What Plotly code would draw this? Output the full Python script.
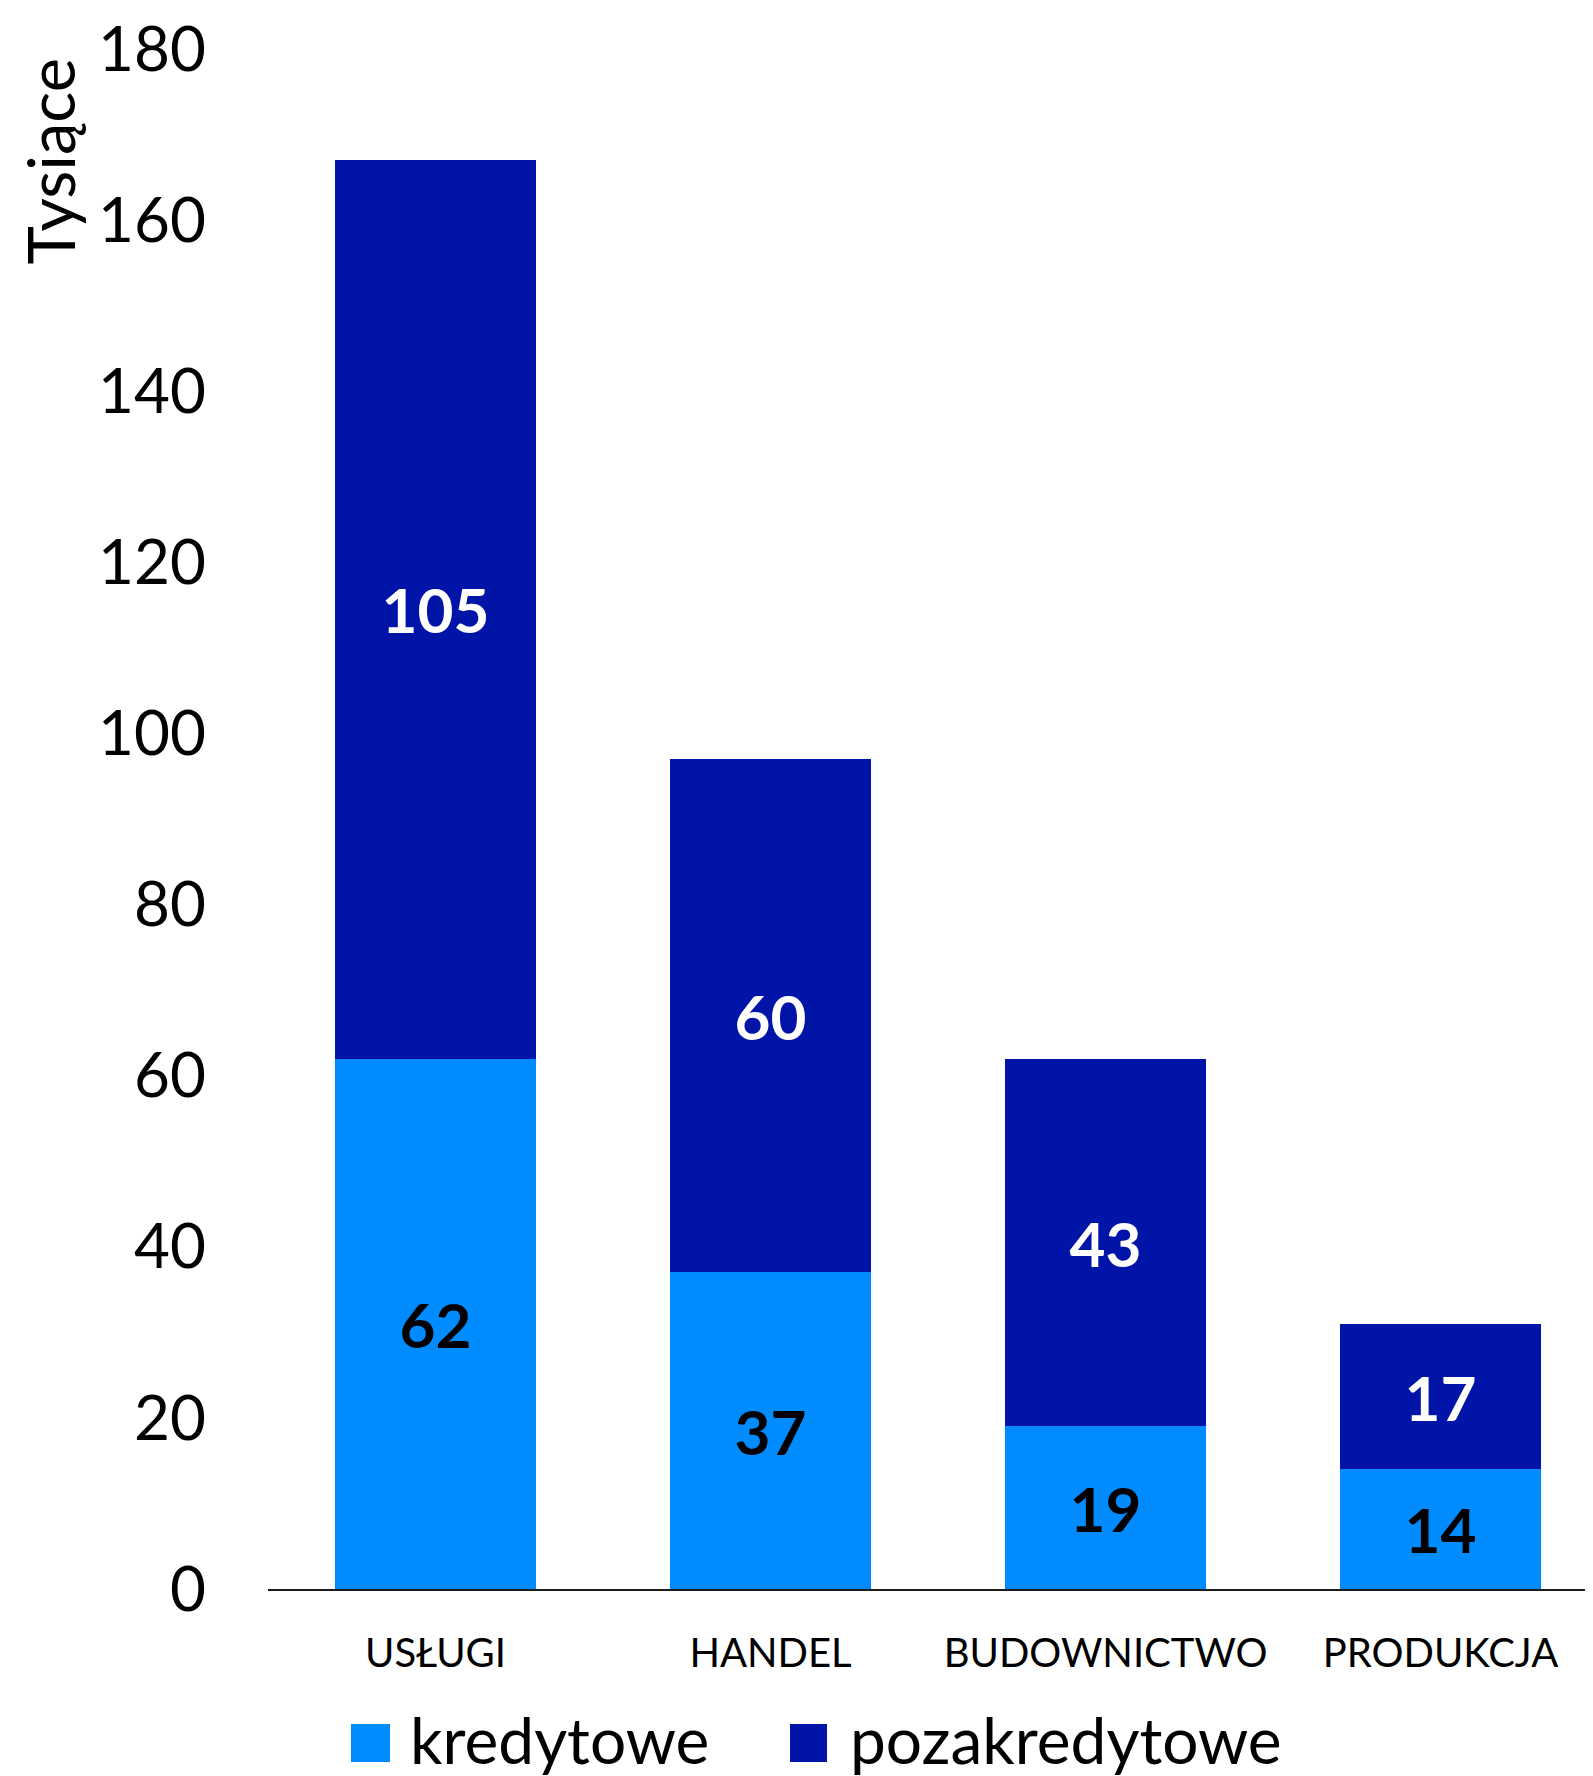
import plotly.graph_objects as go

categories = ["USŁUGI", "HANDEL", "BUDOWNICTWO", "PRODUKCJA"]
series_names = ["kredytowe", "pozakredytowe"]
kredytowe = [62, 37, 19, 14]
pozakredytowe = [105, 60, 43, 17]
y_ticks = [0, 20, 40, 60, 80, 100, 120, 140, 160, 180]
y_title = "Tysiące"

colors = ["#008CFF", "#0014A8"]
label_colors = ["#000000", "#FFFFFF"]
FONT = "Lato"

# page body has an 8px margin; work in page pixel coordinates and compensate
OFF = 8
W, H = 1593 - OFF, 1776 - OFF
PLOT_L, PLOT_R, PLOT_T, PLOT_B = 268, 1593, 49, 1589  # page pixels
ML = PLOT_L - OFF
MT = PLOT_T - OFF
MR = 0
MB = (H + OFF) - PLOT_B
PW = PLOT_R - PLOT_L
PH = PLOT_B - PLOT_T

def px_x(px):
    return (px - PLOT_L) / PW

def px_y(py):
    return (PLOT_B - py) / PH

fig = go.Figure()
for name, vals, col, lc in zip(series_names, [kredytowe, pozakredytowe], colors, label_colors):
    fig.add_trace(go.Bar(
        x=categories, y=vals, name=name,
        marker=dict(color=col, line=dict(width=0)),
        text=[str(v) for v in vals],
        textposition="inside", insidetextanchor="middle",
        textfont=dict(family=FONT, size=62, color=lc, weight="bold"),
        showlegend=False,
    ))

fig.update_layout(
    width=W, height=H,
    margin=dict(l=ML, r=MR, t=MT, b=MB, pad=0),
    barmode="stack", bargap=0.40,
    plot_bgcolor="white", paper_bgcolor="white",
    font=dict(family=FONT, color="black"),
    showlegend=False,
)
fig.update_xaxes(
    range=[-0.5, 3.455],
    showline=True, linecolor="#1a1a1a", linewidth=2,
    ticks="", showgrid=False, zeroline=False,
    tickfont=dict(family=FONT, size=40, color="black"),
    ticklabelstandoff=28,
)
fig.update_yaxes(
    range=[0, 180], tickvals=y_ticks,
    ticktext=[str(t) for t in y_ticks],
    showline=False, showgrid=False, zeroline=False, ticks="",
    tickfont=dict(family=FONT, size=62, color="black"),
    ticklabelstandoff=61,
)

# axis title at top-left, rotated
fig.add_annotation(
    text=y_title, textangle=-90,
    xref="paper", yref="paper",
    x=px_x(50), y=px_y(56), xanchor="center", yanchor="top",
    showarrow=False, font=dict(family=FONT, size=65, color="black"),
)

# manual legend with large squares
legend_items = [(351, 390, 408), (790, 827, 848)]
for (x0, x1, tx), name, col in zip(legend_items, series_names, colors):
    fig.add_shape(
        type="rect", xref="paper", yref="paper",
        x0=px_x(x0), x1=px_x(x1), y0=px_y(1762), y1=px_y(1724),
        fillcolor=col, line=dict(width=0),
    )
    fig.add_annotation(
        text=name, xref="paper", yref="paper",
        x=px_x(tx), y=px_y(1740), xanchor="left", yanchor="middle",
        showarrow=False, font=dict(family=FONT, size=64, color="black"),
    )

fig.write_html(
    "out.html",
    post_script="document.documentElement.style.overflow='hidden';document.body.style.overflow='hidden';",
)
